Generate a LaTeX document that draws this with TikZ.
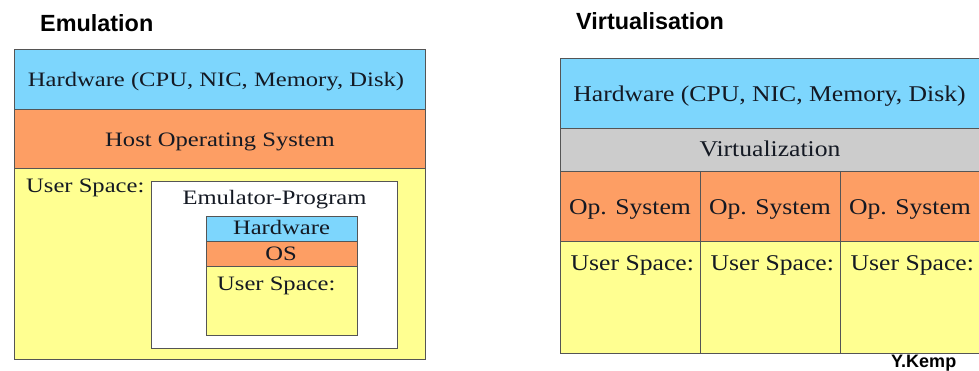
\documentclass[tikz,border=0pt]{standalone}
\usepackage{fontspec}
\setmainfont{Liberation Serif}
\newfontfamily\serL[FakeStretch=1.2]{Liberation Serif}
\newfontfamily\serR[FakeStretch=1.14]{Liberation Serif}
\newfontfamily\ttlfont{Liberation Sans}
\definecolor{hwblue}{RGB}{125,214,253}
\definecolor{osorange}{RGB}{253,158,100}
\definecolor{usyellow}{RGB}{255,255,145}
\definecolor{virtgray}{RGB}{204,204,204}
\definecolor{edge}{RGB}{85,85,85}
\definecolor{ink}{RGB}{20,25,35}
\tikzset{
  band/.style={draw=edge, line width=1.3pt, rectangle, inner sep=0pt, anchor=north west},
  thinband/.style={draw=edge, line width=0.9pt, rectangle, inner sep=0pt, anchor=north west},
  lbl/.style={inner sep=0pt, text=ink, font=\serL\fontsize{20.5}{24}\selectfont},
  rbl/.style={inner sep=0pt, text=ink, font=\serR\fontsize{22.5}{26}\selectfont},
  ttl/.style={inner sep=0pt, anchor=base west, text=black, font=\ttlfont\bfseries\fontsize{23.4}{28}\selectfont},
}
\begin{document}
\begin{tikzpicture}[x=1pt,y=-1pt]
\useasboundingbox (0,0) rectangle (979,371);
% ---- Emulation ----
\node[ttl] (tEmu) at (40,32) {Emulation};
\node[band, fill=hwblue, minimum width=411pt, minimum height=60pt] (hwL) at (14,49) {};
\node[band, fill=osorange, minimum width=411pt, minimum height=59pt] (osL) at (14,109) {};
\node[band, fill=usyellow, minimum width=411pt, minimum height=191pt] (usL) at (14,168) {};
\node[lbl, anchor=base] (hwLt) at (216,86.7) {Hardware (CPU, NIC, Memory, Disk)};
\node[lbl, anchor=base] (osLt) at (220,146.7) {Host Operating System};
\node[lbl, anchor=base west] (usLt) at (26,193) {User Space:};
\node[thinband, fill=white, minimum width=246pt, minimum height=167pt] (emu) at (151,181) {};
\node[lbl, anchor=base] (emut) at (274.5,205) {Emulator-Program};
\node[thinband, fill=hwblue, minimum width=151pt, minimum height=25pt] (hwI) at (206,216) {};
\node[thinband, fill=osorange, minimum width=151pt, minimum height=25pt] (osI) at (206,241) {};
\node[thinband, fill=usyellow, minimum width=151pt, minimum height=69pt] (usI) at (206,266) {};
\node[lbl, anchor=base] (hwIt) at (281.5,235) {Hardware};
\node[lbl, anchor=base] (osIt) at (281,260) {OS};
\node[lbl, anchor=base west] (usIt) at (217,290.5) {User Space:};
% ---- Virtualisation ----
\node[ttl] (tVirt) at (576,30) {Virtualisation};
\node[band, fill=hwblue, minimum width=421pt, minimum height=70pt] (hwR) at (560,58) {};
\node[band, fill=virtgray, minimum width=421pt, minimum height=43pt] (virt) at (560,128) {};
\foreach \i/\x in {1/560,2/700,3/840}{
  \node[band, fill=osorange, minimum width=140pt, minimum height=70pt] (op\i) at (\x,171) {};
  \node[band, fill=usyellow, minimum width=140pt, minimum height=112pt] (us\i) at (\x,241) {};
  \node[rbl, anchor=base] (op\i t) at (\x+70,215) {Op. System};
  \node[rbl, anchor=base west] (us\i t) at (\x+10.5,270) {User Space:};
}
\node[rbl, anchor=base] (hwRt) at (769.5,101.7) {Hardware (CPU, NIC, Memory, Disk)};
\node[rbl, anchor=base] (virtt) at (770,156.7) {Virtualization};
\node[inner sep=0pt, anchor=base west, font=\ttlfont\bfseries\fontsize{18}{22}\selectfont] (kemp) at (891,367.5) {Y.Kemp};
\end{tikzpicture}
\end{document}
